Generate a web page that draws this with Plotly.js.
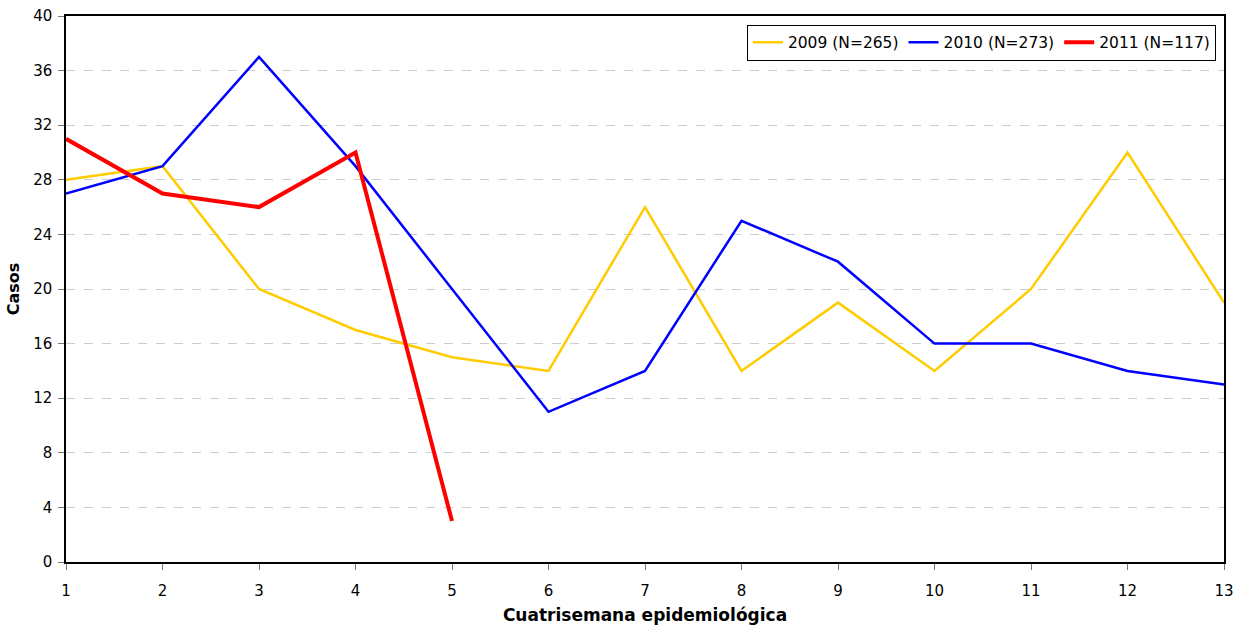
<!DOCTYPE html>
<html><head><meta charset="utf-8">
<script src="https://cdn.plot.ly/plotly-3.0.1.min.js"></script>
<style>body{margin:0;background:#fff}#c{width:1242px;height:625px}</style>
</head><body><div id="c"></div>
<script>
const weeks = [1,2,3,4,5,6,7,8,9,10,11,12,13];
const s2009 = [28,29,20,17,15,14,26,14,19,14,20,30,19];
const s2010 = [27,29,37,29,20,11,14,25,22,16,16,14,13];
const s2011 = [31,27,26,30,3];
const names = ['2009 (N=265)','2010 (N=273)','2011 (N=117)'];
const font = 'DejaVu Sans, Verdana, sans-serif';
const traces = [
  {x: weeks, y: s2009, name: names[0], mode:'lines', line:{color:'#FFCC00', width:2.5}},
  {x: weeks, y: s2010, name: names[1], mode:'lines', line:{color:'#0000FF', width:2.5}},
  {x: weeks.slice(0, s2011.length), y: s2011, name: names[2], mode:'lines', line:{color:'#FF0000', width:4}}
];
const layout = {
  width:1242, height:625,
  margin:{l:66, r:18, t:16, b:63},
  paper_bgcolor:'#fff', plot_bgcolor:'#fff',
  font:{family:font, size:15, color:'#000'},
  showlegend:true,
  legend:{orientation:'h', x:0.993, xanchor:'right', y:0.984, yanchor:'top',
    bordercolor:'#000', borderwidth:1, bgcolor:'#fff', font:{family:font, size:15.5},
    itemwidth:30, tracegroupgap:0, valign:'middle'},
  xaxis:{range:[1,13], tickvals:weeks, ticks:'outside', ticklen:6, tickcolor:'#777',
    ticklabelstandoff:8, tickfont:{size:15},
    showline:true, linecolor:'#000', linewidth:1.5, mirror:true, showgrid:false, zeroline:false,
    title:{text:'<b>Cuatrisemana epidemiológica</b>', font:{family:font, size:17}, standoff:10}},
  yaxis:{range:[0,40], dtick:4, ticks:'outside', ticklen:6, tickcolor:'#777',
    ticklabelstandoff:3, tickfont:{size:15},
    showline:true, linecolor:'#000', linewidth:1.5, mirror:true,
    showgrid:true, gridcolor:'#cccccc', griddash:'dash', gridwidth:1, zeroline:false,
    title:{text:'<b>Casos</b>', font:{family:font, size:16}, standoff:10}}
};
Plotly.newPlot('c', traces, layout, {displayModeBar:false});
</script></body></html>
